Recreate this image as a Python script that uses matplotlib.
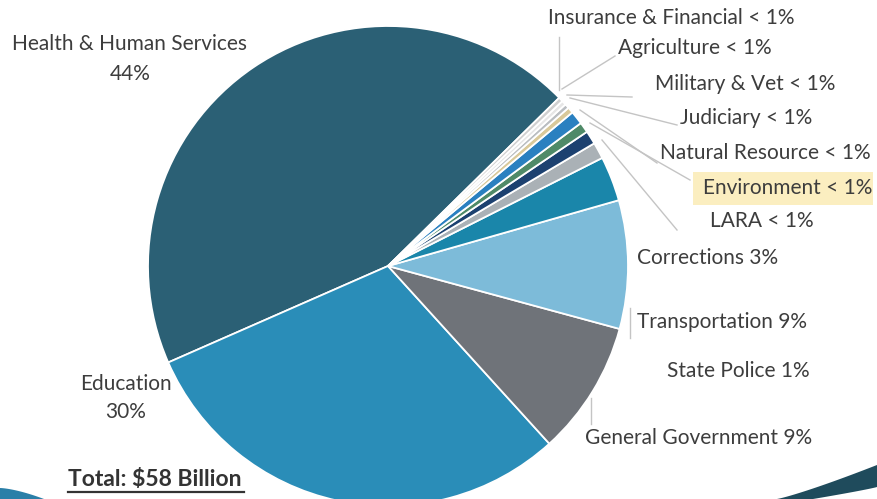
import matplotlib
matplotlib.use("Agg")
import matplotlib.pyplot as plt
from matplotlib.patches import Rectangle, Polygon
import numpy as np

W, H = 877, 499

# shares of the budget, counterclockwise from the top-right
names = ["Health & Human Services", "Education", "General Government", "Transportation",
         "Corrections", "State Police", "LARA", "Environment", "Natural Resource",
         "Judiciary", "Military & Vet", "Agriculture", "Insurance & Financial"]
shares = [44, 30, 9, 8.6, 3, 1.1, 0.9, 0.7, 0.9, 0.4, 0.3, 0.3, 0.3]
colors = ["#2b6075", "#2a8db8", "#6f7379", "#7dbbd9", "#1a86aa", "#aab1b6", "#1c4170",
          "#4f8a68", "#2a80c0", "#d9c99a", "#b9bdc1", "#e6e6e6", "#cfcfcf"]

# label texts and where they sit (pixel coords, y from top)
labels = ["Insurance & Financial < 1%", "Agriculture < 1%", "Military & Vet < 1%",
          "Judiciary < 1%", "Natural Resource < 1%", "Environment < 1%", "LARA < 1%",
          "Corrections 3%", "Transportation 9%", "State Police 1%", "General Government 9%"]
label_xy = [(548, 18), (618, 48), (655, 84), (680, 118), (660, 153), (703, 188),
            (710, 221), (637, 258), (637, 322), (667, 371), (585, 438)]

# leader lines (pixel coords)
leaders = [((559, 90), (559, 37)), ((562, 89), (615, 56)), ((567, 95), (632, 97)),
           ((570, 98), (677, 125)), ((580, 110), (657, 163)), ((590, 123), (690, 180)),
           ((602, 140), (677, 230)), ((630, 308), (630, 338)), ((591, 398), (591, 424))]

txt = "#3d3d3d"
fam = ["Lato", "DejaVu Sans"]
fs = 15

fig = plt.figure(figsize=(W / 100, H / 100), dpi=100)
ax = fig.add_axes([0, 0, 1, 1])

cx, cy, r = 388, H - 266, 240
ax.pie(shares, colors=colors, startangle=44.5, counterclock=True, center=(cx, cy),
       radius=r, wedgeprops=dict(edgecolor="white", linewidth=1.3), frame=True)
ax.set_xlim(0, W)
ax.set_ylim(0, H)
ax.axis("off")

for (a, b) in leaders:
    ax.plot([a[0], b[0]], [H - a[1], H - b[1]], color="#c4c4c4", lw=1, zorder=1)

# highlight behind Environment
ax.add_patch(Rectangle((693, H - 205), 180, 33, facecolor="#fbeec0", edgecolor="none", zorder=0))

for t, (x, y) in zip(labels, label_xy):
    ax.text(x, H - y, t, ha="left", va="center", fontsize=fs, color=txt, family=fam)

ax.text(130, H - 44, "Health & Human Services", ha="center", va="center", fontsize=fs, color=txt, family=fam)
ax.text(130, H - 74, "44%", ha="center", va="center", fontsize=fs, color=txt, family=fam)
ax.text(126, H - 384, "Education", ha="center", va="center", fontsize=fs, color=txt, family=fam)
ax.text(126, H - 412, "30%", ha="center", va="center", fontsize=fs, color=txt, family=fam)

ax.text(68, H - 480, "Total: $58 Billion", ha="left", va="center", fontsize=16.5, color="#333333",
        family=fam, fontweight="bold")
ax.plot([68, 244], [H - 492, H - 492], color="#333333", lw=1.6)

# dark swoosh bottom right
t = np.linspace(0, 1, 40)
top = np.c_[777 + 100 * t, H - (499 - 34 * t ** 1.15)]
bot = np.c_[877 - 64 * t, H - (487 + 12 * t ** 0.9)]
ax.add_patch(Polygon(np.concatenate([top, [[878, H - 465]], [[878, H - 487]], bot]), closed=True,
                     facecolor="#1f4b5c", edgecolor="none", zorder=5))

# blue swoosh bottom left
edge = np.c_[44 * t, H - (488 + 11 * t ** 1.5)]
ax.add_patch(Polygon(np.concatenate([[[-1, -1]], [[-1, H - 488]], edge, [[44, -1]]]),
                     closed=True, facecolor="#2a7fa8", edgecolor="none", zorder=5))

fig.savefig("out.png", dpi=100)
